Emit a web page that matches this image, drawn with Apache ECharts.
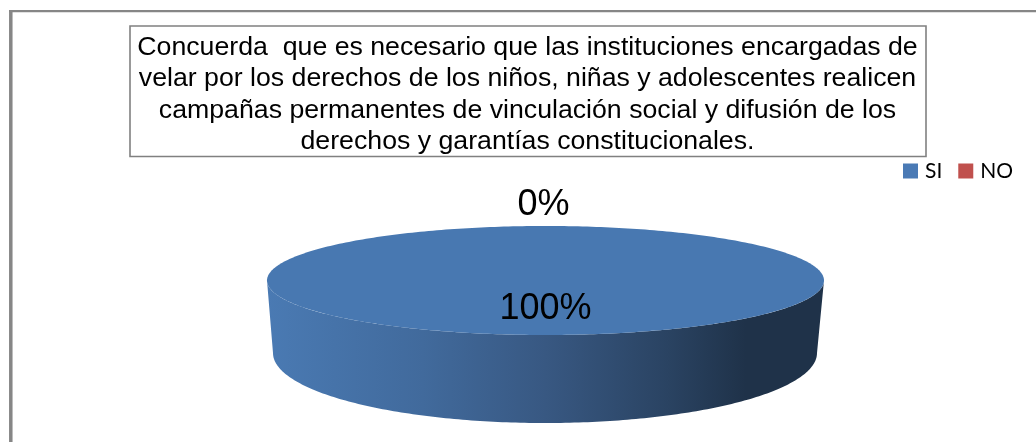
<!DOCTYPE html>
<html>
<head>
<meta charset="utf-8">
<style>html,body{margin:0;padding:0;background:#fff}#c{width:1036px;height:442px}</style>
<script src="https://cdn.jsdelivr.net/npm/echarts@6/dist/echarts.min.js"></script>
</head>
<body>
<div id="c"></div>
<script>
const categories = ['SI', 'NO'];
const values = [100, 0];
const labels = ['100%', '0%'];
const colors = ['#4a7ab5', '#c0504d'];
const titleLines = [
  'Concuerda  que es necesario que las instituciones encargadas de',
  'velar por los derechos de los niños, niñas y adolescentes realicen',
  'campañas permanentes de vinculación social y difusión de los',
  'derechos y garantías constitucionales.'
];

const top3d = {cx: 545.5, cy: 280.5, rx: 278.5, ry: 54.5};
const bot3d = {cx: 545, cy: 353, rx: 272, ry: 70};
const total = values.reduce((a, b) => a + b, 0);

function pt(e, t) {
  return [e.cx + e.rx * Math.sin(t), e.cy - e.ry * Math.cos(t)];
}
function arc(e, a, b) {
  const n = Math.max(2, Math.ceil(Math.abs(b - a) * 60));
  const out = [];
  for (let i = 0; i <= n; i++) out.push(pt(e, a + (b - a) * i / n));
  return out;
}

const sideGradient = {
  type: 'linear', x: 0, y: 0, x2: 1, y2: 0,
  colorStops: [
    {offset: 0, color: '#4a7ab3'},
    {offset: 0.28, color: '#416a9c'},
    {offset: 0.5, color: '#385882'},
    {offset: 0.72, color: '#2a4362'},
    {offset: 0.86, color: '#1f3249'},
    {offset: 1, color: '#1f3249'}
  ]
};

function makeRender(idx) {
  return function (params, api) {
    const before = values.slice(0, idx).reduce((a, b) => a + b, 0);
    const v = api.value(0);
    const a0 = before / total * 2 * Math.PI;
    const a1 = (before + v) / total * 2 * Math.PI;
    const mid = (a0 + a1) / 2;
    const children = [];
    // visible wall: the part of the slice on the front half of the disc
    const f0 = Math.max(a0, Math.PI / 2), f1 = Math.min(a1, Math.PI * 1.5);
    if (f1 > f0) {
      const pts = arc(top3d, f0, f1).concat(arc(bot3d, f1, f0));
      children.push({type: 'polygon', shape: {points: pts}, style: {fill: sideGradient}});
    }
    if (a1 > a0) {
      const pts = arc(top3d, a0, a1);
      if (a1 - a0 < 2 * Math.PI) pts.push([top3d.cx, top3d.cy]);
      children.push({type: 'polygon', shape: {points: pts}, style: {fill: idx === 0 ? '#4878b1' : colors[idx]}});
    }
    // label: inside for a real slice, above the rim for an empty one
    const k = v > 0 ? 0.53 : 1.38;
    children.push({
      type: 'text',
      z2: 10,
      style: {
        x: top3d.cx + top3d.rx * k * Math.sin(mid) - (v > 0 ? 0 : 2),
        y: top3d.cy - top3d.ry * k * Math.cos(mid),
        text: labels[idx],
        fill: '#000',
        font: '36px "Liberation Sans", Arial, sans-serif',
        align: 'center',
        verticalAlign: 'middle'
      }
    });
    return {type: 'group', children};
  };
}

const chart = echarts.init(document.getElementById('c'), null, {renderer: 'canvas'});
chart.setOption({
  animation: false,
  backgroundColor: '#fff',
  title: {
    text: titleLines.join('\n'),
    left: 527.5,
    top: 32,
    textAlign: 'center',
    padding: 0,
    textStyle: {
      fontFamily: '"Liberation Sans", Arial, sans-serif',
      fontSize: 26.7,
      fontWeight: 'normal',
      color: '#000',
      lineHeight: 31.3,
      align: 'center'
    }
  },
  legend: {
    left: 903,
    top: 158,
    padding: 0,
    itemWidth: 15,
    itemHeight: 15,
    itemGap: 16,
    icon: 'rect',
    data: categories,
    textStyle: {fontFamily: 'Lato, "Open Sans", sans-serif', fontSize: 21, color: '#000', padding: [0, 0, 0, 2], height: 26, lineHeight: 26}
  },
  graphic: [
    {type: 'line', z: -1, shape: {x1: 10.8, y1: 10, x2: 10.8, y2: 442}, style: {stroke: '#868686', lineWidth: 3.5}},
    {type: 'line', z: -1, shape: {x1: 9, y1: 11.2, x2: 1036, y2: 11.2}, style: {stroke: '#868686', lineWidth: 2.3}},
    {type: 'rect', z: -1, shape: {x: 130, y: 26, width: 796, height: 130.5}, style: {stroke: '#808080', lineWidth: 1.6, fill: '#fff'}}
  ],
  series: categories.map((name, i) => ({
    type: 'custom',
    name,
    coordinateSystem: 'none',
    itemStyle: {color: colors[i]},
    renderItem: makeRender(i),
    data: [[values[i]]],
    silent: true
  }))
});
</script>
</body>
</html>
